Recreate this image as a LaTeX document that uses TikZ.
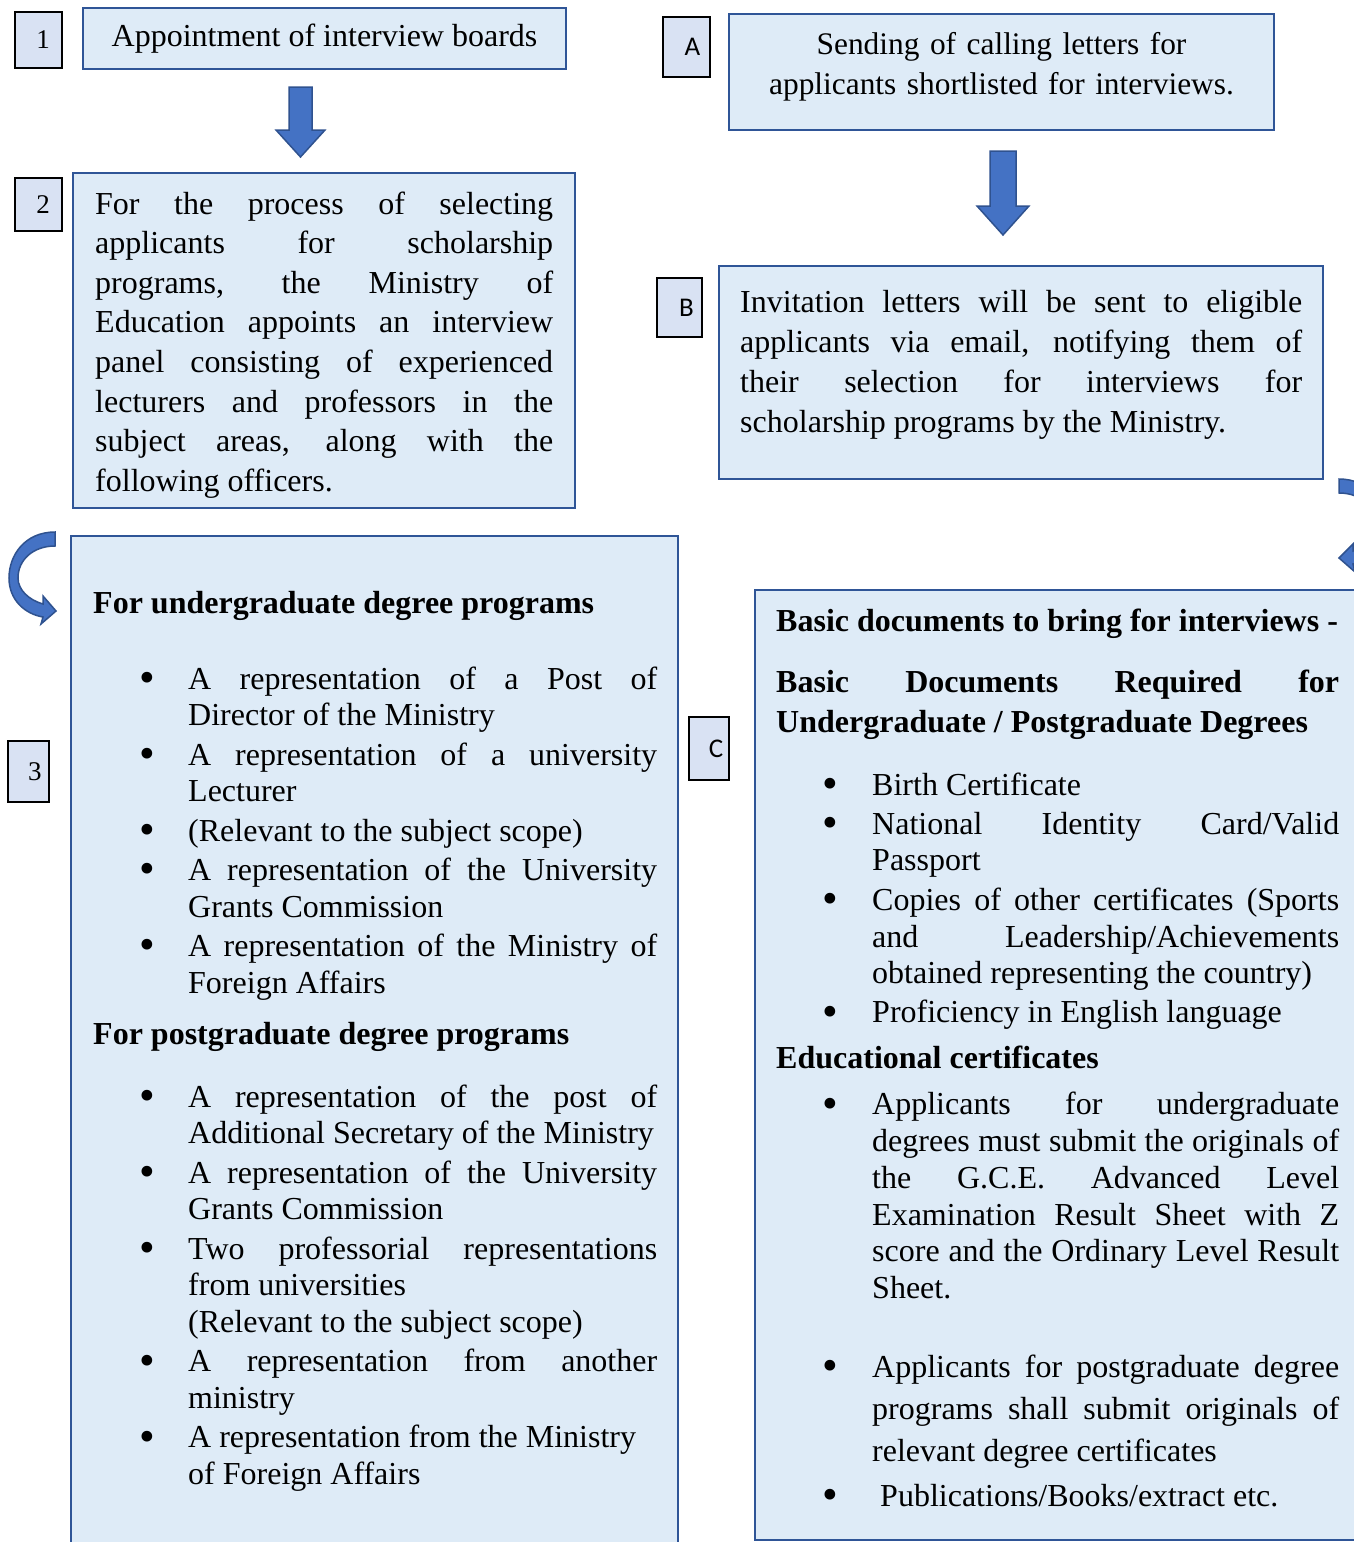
\documentclass[tikz,border=0pt]{standalone}
\usepackage{fontspec}
\usepackage{graphicx}
\setmainfont{Liberation Serif}
\newfontfamily\calibri{Carlito}
\definecolor{boxfill}{HTML}{DEEBF7}
\definecolor{boxline}{HTML}{2F5597}
\definecolor{lblfill}{HTML}{D9E2F3}
\definecolor{arrfill}{HTML}{4472C4}
\definecolor{arrline}{HTML}{2F528F}
\newcommand\bodyfont{\fontsize{32}{36.7}\selectfont}
\newcommand\bigbullet{\raisebox{-3.5pt}{\scalebox{1.4}{\textbullet}}}
\newcommand\bul[3]{{\leftskip=#1pt\noindent\llap{\bigbullet\hspace{#2pt}}#3\par}}
\tikzset{
  bbox/.style={draw=boxline, line width=2.5pt, fill=boxfill, inner sep=0pt},
  lbl/.style={draw=black, line width=2.8pt, fill=lblfill, inner sep=0pt},
  txt/.style={inner sep=0pt, anchor=base west, align=justify},
  blockarrow/.style={fill=arrfill, draw=arrline, line width=1.5pt, line join=miter}
}
\begin{document}
\begin{tikzpicture}[x=1pt,y=-1pt]
\useasboundingbox (0,0) rectangle (1354,1542);
\clip (0,0) rectangle (1354,1542);

% label boxes
\node[lbl, minimum width=47, minimum height=56, font=\fontsize{27}{30}\selectfont] (l1) at (38.5,40) {\hspace*{9pt}1};
\node[lbl, minimum width=47, minimum height=53, font=\fontsize{27}{30}\selectfont] (l2) at (38.5,204.5) {\hspace*{9pt}2};
\node[lbl, minimum width=41, minimum height=61, font=\fontsize{27}{30}\selectfont] (l3) at (28.5,771.5) {\hspace*{13pt}3};
\node[lbl, minimum width=47, minimum height=60, font=\calibri\fontsize{27}{30}\selectfont] (lA) at (686.5,47) {\hspace*{12pt}A};
\node[lbl, minimum width=45, minimum height=59, font=\calibri\fontsize{27}{30}\selectfont] (lB) at (679.5,307.5) {\hspace*{14pt}B};
\node[lbl, minimum width=40, minimum height=63, font=\calibri\fontsize{27}{30}\selectfont] (lC) at (709,748.5) {\hspace*{14pt}C};

% main boxes
\node[bbox, minimum width=483, minimum height=61, font=\bodyfont] (b1) at (324.5,38.5) {Appointment of interview boards};
\node[bbox, minimum width=502, minimum height=335] (b2) at (324,340.5) {};
\node[bbox, minimum width=545, minimum height=116] (bA) at (1001.5,72) {};
\node[bbox, minimum width=604, minimum height=213] (bB) at (1021,372.5) {};
\node[bbox, minimum width=607, minimum height=1040] (b3) at (374.5,1056) {};
\node[bbox, minimum width=625, minimum height=950] (bC) at (1067.5,1065) {};

% block arrows
\draw[blockarrow] (289,87) -- (312,87) -- (312,130) -- (325,130) -- (300.5,157) -- (276,130) -- (289,130) -- cycle;
\draw[blockarrow] (990,151) -- (1016,151) -- (1016,206) -- (1029,206) -- (1003,235) -- (977,206) -- (990,206) -- cycle;

% curved arrows
\path[blockarrow] (55,532) .. controls (25,532) and (9,555) .. (9,578)
  .. controls (9,600) and (25,614) .. (43,617) -- (41,624) -- (56,611) -- (43,596) -- (43,604)
  .. controls (29,600) and (18,590) .. (18,578)
  .. controls (18,560) and (33,546) .. (55,546) -- cycle;
\path[blockarrow] (1339,479) .. controls (1369,479) and (1385,502) .. (1385,525)
  .. controls (1385,547) and (1369,561) .. (1353,564) -- (1355,572) -- (1339,558) -- (1353,544) -- (1353,551)
  .. controls (1365,547) and (1376,537) .. (1376,525)
  .. controls (1376,507) and (1361,493) .. (1339,493) -- cycle;

% texts
\node[txt, text width=458, font=\fontsize{32}{39.6}\selectfont] (t2) at (95,214) {%
For the process of selecting\linebreak
applicants for scholarship\linebreak
programs, the Ministry of\linebreak
Education appoints an interview\linebreak
panel consisting of experienced\linebreak
lecturers and professors in the\linebreak
subject areas, along with the\linebreak
following officers.};

\node[inner sep=0pt, anchor=base, text width=545, align=center, font=\fontsize{31.4}{40}\selectfont] (tA) at (1001.5,54) {%
Sending of calling letters for\\
applicants shortlisted for interviews.};

\node[txt, text width=562, font=\fontsize{32}{40}\selectfont] (tB) at (740,312) {%
Invitation letters will be sent to eligible\linebreak
applicants via email, notifying them of\linebreak
their selection for interviews for\linebreak
scholarship programs by the Ministry.};

\node[txt, text width=564, font=\bodyfont] (t3) at (93,613) {%
\parskip=0pt
{\noindent\bfseries For undergraduate degree programs\par}
\vspace{39.3pt}
\bul{95}{33}{A representation of a Post of\linebreak Director of the Ministry}
\vspace{2.6pt}
\bul{95}{33}{A representation of a university\linebreak Lecturer}
\vspace{2.6pt}
\bul{95}{33}{(Relevant to the subject scope)}
\vspace{2.6pt}
\bul{95}{33}{A representation of the University\linebreak Grants Commission}
\vspace{2.6pt}
\bul{95}{33}{A representation of the Ministry of\linebreak Foreign Affairs}
\vspace{14.3pt}
{\noindent\bfseries For postgraduate degree programs\par}
\vspace{26.3pt}
\bul{95}{33}{A representation of the post of\linebreak Additional Secretary of the Ministry}
\vspace{2.6pt}
\bul{95}{33}{A representation of the University\linebreak Grants Commission}
\vspace{2.6pt}
\bul{95}{33}{Two professorial representations\linebreak from universities\\(Relevant to the subject scope)}
\vspace{2.6pt}
\bul{95}{33}{A representation from another\linebreak ministry}
\vspace{2.6pt}
\bul{95}{33}{A representation from the Ministry\\of Foreign Affairs}
};

\node[txt, text width=563, font=\bodyfont] (tC) at (776,631) {%
\parskip=0pt
{\noindent\bfseries Basic documents to bring for interviews -\par}
\vspace{21pt}
{\baselineskip=40pt\noindent\bfseries Basic Documents Required for\linebreak Undergraduate / Postgraduate Degrees\par}
\vspace{26.3pt}
\bul{96}{34}{Birth Certificate}
\vspace{2.3pt}
\bul{96}{34}{National Identity Card/Valid\linebreak Passport}
\vspace{3pt}
\bul{96}{34}{Copies of other certificates (Sports\linebreak and Leadership/Achievements\linebreak obtained representing the country)}
\vspace{2pt}
\bul{96}{34}{Proficiency in English language}
\vspace{9pt}
{\noindent\bfseries Educational certificates\par}
\vspace{10pt}
\bul{96}{34}{Applicants for undergraduate\linebreak degrees must submit the originals of\linebreak the G.C.E. Advanced Level\linebreak Examination Result Sheet with Z\linebreak score and the Ordinary Level Result\linebreak Sheet.}
\vspace{37pt}
{\baselineskip=42pt\leftskip=96pt\noindent\llap{\bigbullet\hspace{34pt}}Applicants for postgraduate degree\linebreak programs shall submit originals of\linebreak relevant degree certificates\par}
\vspace{8pt}
\bul{96}{34}{\hspace*{8pt}Publications/Books/extract etc.}
};
\end{tikzpicture}
\end{document}
